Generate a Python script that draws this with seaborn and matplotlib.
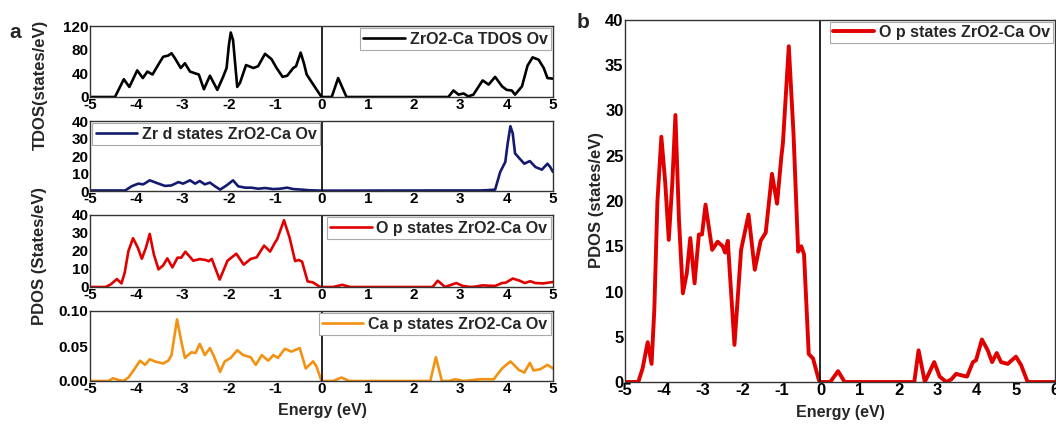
import matplotlib
matplotlib.use("Agg")
import matplotlib.pyplot as plt
import seaborn as sns
import pandas as pd

# ---------------- data ----------------
tdos_e = [-5, -4.46, -4.27, -4.15, -3.98, -3.86, -3.76, -3.65, -3.53, -3.42, -3.31, -3.24, -3.17,
          -3.04, -2.95, -2.84, -2.73, -2.65, -2.54, -2.41, -2.25, -2.12, -2.05, -2.0, -1.96, -1.91,
          -1.82, -1.76, -1.63, -1.47, -1.37, -1.22, -1.08, -0.97, -0.84, -0.74, -0.61, -0.55, -0.45,
          -0.38, -0.32, -0.22, 0, 0.22, 0.36, 0.54, 2.74, 2.85, 2.96, 3.07, 3.17, 3.28, 3.48, 3.61,
          3.75, 3.9, 4.0, 4.11, 4.18, 4.33, 4.45, 4.56, 4.69, 4.8, 4.88, 5.0]
tdos_v = [0, 0, 30, 17, 45, 32, 43, 38, 54, 68, 70, 74, 66,
          49, 57, 43, 40, 38, 13, 36, 12, 35, 49, 88, 109, 96,
          17, 24, 54, 49, 52, 73, 64, 49, 34, 36, 49, 52, 75,
          57, 38, 26, 0, 0, 32, 0, 0, 11, 4, 6, 1, 4, 28, 21,
          34, 18, 12, 11, 4, 18, 53, 67, 63, 49, 32, 31]

zrd_e = [-5, -4.24, -4.1, -3.96, -3.85, -3.71, -3.56, -3.38, -3.24, -3.09, -2.99, -2.84, -2.73,
         -2.63, -2.52, -2.41, -2.30, -2.19, -2.05, -1.91, -1.80, -1.65, -1.51, -1.37, -1.22, -1.04,
         -0.9, -0.74, -0.61, -0.43, -0.25, 0, 2.5, 3.43, 3.6, 3.75, 3.86, 3.97, 4.02, 4.08, 4.13,
         4.18, 4.28, 4.38, 4.5, 4.62, 4.76, 4.88, 4.94, 5.0]
zrd_v = [0.3, 0.3, 2.7, 4.2, 3.8, 6.1, 4.6, 2.9, 3.2, 5.1, 4.2, 6.1, 4.2,
         5.7, 3.8, 4.8, 2.7, 0.8, 3.2, 6.1, 2.7, 1.9, 1.9, 1.3, 1.7, 1.1,
         1.3, 1.9, 1.1, 0.8, 0.4, 0.2, 0.3, 0.3, 0.5, 0.8, 10.9, 16.6, 27, 37, 33,
         21.5, 18.5, 15.6, 17.1, 13.7, 12.2, 15.6, 13.7, 10.9]

op_e = [-5, -4.66, -4.55, -4.42, -4.32, -4.25, -4.17, -4.07, -3.97, -3.88, -3.79, -3.71, -3.62,
        -3.52, -3.42, -3.33, -3.22, -3.11, -3.03, -2.94, -2.77, -2.63, -2.50, -2.44, -2.37, -2.20,
        -2.03, -1.84, -1.68, -1.53, -1.40, -1.24, -1.11, -1.0, -0.96, -0.81, -0.69, -0.57, -0.49,
        -0.42, -0.30, -0.19, -0.04, 0, 0.25, 0.45, 0.62, 2.4, 2.51, 2.67, 2.91, 3.05, 3.22, 3.35,
        3.47, 3.64, 3.75, 3.9, 3.98, 4.13, 4.28, 4.39, 4.51, 4.62, 4.79, 5.0, 5.13, 5.3, 6.0]
op_v = [0, 0, 1.5, 4.4, 2.0, 8, 20, 27.1, 22, 15.7, 22, 29.5, 18,
        9.8, 12, 15.9, 10.9, 16.3, 16.3, 19.6, 14.6, 15.5, 15.0, 14.3, 15.6, 4.1,
        14.6, 18.5, 12.4, 15.6, 16.5, 23.0, 19.7, 24.9, 26.4, 37.1, 27.5, 14.4, 15.0,
        14.1, 3.1, 2.6, 0.2, 0, 0, 1.2, 0, 0, 3.5, 0, 2.2, 0.6, 0, 0.3,
        0.9, 0.7, 0.6, 2.2, 2.4, 4.7, 3.5, 2.2, 3.2, 2.2, 2.0, 2.8, 1.9, 0, 0]

cap_e = [-5, -4.6, -4.5, -4.39, -4.28, -4.17, -4.03, -3.92, -3.81, -3.71, -3.6, -3.42, -3.31,
         -3.24, -3.12, -3.02, -2.95, -2.81, -2.72, -2.63, -2.52, -2.41, -2.32, -2.19, -2.09, -1.96,
         -1.82, -1.69, -1.53, -1.42, -1.29, -1.15, -1.04, -0.94, -0.79, -0.65, -0.47, -0.34, -0.18,
         -0.11, 0, 0.25, 0.43, 0.6, 2.35, 2.47, 2.6, 2.75, 2.89, 3.07, 3.43, 3.72, 3.9, 4.08, 4.26,
         4.38, 4.5, 4.58, 4.73, 4.88, 5.0]
cap_v = [0, 0, 0.004, 0.0015, 0, 0.005, 0.018, 0.029, 0.023, 0.031, 0.028, 0.025, 0.029,
         0.037, 0.088, 0.054, 0.033, 0.041, 0.040, 0.053, 0.037, 0.047, 0.035, 0.013, 0.028, 0.033,
         0.044, 0.037, 0.034, 0.023, 0.037, 0.029, 0.037, 0.033, 0.046, 0.042, 0.047, 0.018, 0.028,
         0.021, 0, 0, 0.005, 0, 0, 0.034, 0, 0, 0.0025, 0, 0.0025, 0.0025, 0.018, 0.028, 0.016,
         0.012, 0.026, 0.015, 0.017, 0.023, 0.018]

labels = ["ZrO2-Ca TDOS Ov", "Zr d states ZrO2-Ca Ov", "O p states ZrO2-Ca Ov", "Ca p states ZrO2-Ca Ov"]
colors = ["#000000", "#141a6e", "#e00000", "#f39212"]
yticks_a = [[0, 40, 80, 120], [0, 10, 20, 30, 40], [0, 10, 20, 30, 40], [0.0, 0.05, 0.10]]
ylims_a = [(0, 120), (0, 40), (0, 40), (0, 0.10)]
xticks_a = [-5, -4, -3, -2, -1, 0, 1, 2, 3, 4, 5]
xticks_b = [-5, -4, -3, -2, -1, 0, 1, 2, 3, 4, 5, 6]
yticks_b = [0, 5, 10, 15, 20, 25, 30, 35, 40]

# ---------------- style ----------------
sns.set_theme(style="white")
plt.rcParams['font.family'] = ['Liberation Sans', 'DejaVu Sans']
plt.rcParams['font.weight'] = 'bold'
plt.rcParams['axes.labelweight'] = 'bold'

W, H = 1056, 425
fig = plt.figure(figsize=(W / 100, H / 100), dpi=100)


def px_axes(l, t, r, b):
    return fig.add_axes([l / W, 1 - b / H, (r - l) / W, (b - t) / H])


def style_axes(ax, fs):
    for s in ax.spines.values():
        s.set_color("#333333")
        s.set_linewidth(1.0)
    ax.tick_params(axis="both", length=0, pad=1, labelsize=fs, colors="black")
    for lab in ax.get_xticklabels() + ax.get_yticklabels():
        lab.set_fontweight("bold")


def style_legend(ax, loc, fs, bpad=0.15):
    leg = ax.legend(loc=loc, frameon=True, fancybox=False, framealpha=1,
                    edgecolor="#aaaaaa", handlelength=2.6, handletextpad=0.3,
                    borderpad=0.2, borderaxespad=bpad, prop={'weight': 'bold', 'size': fs})
    leg.get_frame().set_linewidth(0.8)
    return leg


# ---------------- panel a ----------------
tops = [26, 121, 215, 311]
bots = [97, 191, 287, 381]
series = [(tdos_e, tdos_v), (zrd_e, zrd_v), (op_e, op_v), (cap_e, cap_v)]
locs = ["upper right", "upper left", "upper right", "upper right"]
fmt = ["{:.0f}", "{:.0f}", "{:.0f}", "{:.2f}"]
for i in range(4):
    ax = px_axes(90, tops[i], 553, bots[i])
    e, v = series[i]
    df = pd.DataFrame({"E": e, "V": v})
    sns.lineplot(data=df, x="E", y="V", ax=ax, color=colors[i], lw=1.9, label=labels[i],
                 sort=False, estimator=None)
    ax.axvline(0, color="black", lw=1.2)
    ax.set_xlim(-5, 5)
    ax.set_ylim(*ylims_a[i])
    ax.set_xticks(xticks_a)
    ax.set_xticklabels([str(t) for t in xticks_a])
    ax.set_yticks(yticks_a[i])
    ax.set_yticklabels([fmt[i].format(t) for t in yticks_a[i]])
    ax.set_xlabel("")
    ax.set_ylabel("")
    style_axes(ax, 11)
    style_legend(ax, locs[i], 11.5)

fig.text(322 / W, 1 - 410 / H, "Energy (eV)", ha="center", va="center", fontsize=11.5, fontweight="bold")
fig.text(40 / W, 1 - 85 / H, "TDOS(states/eV)", ha="center", va="center", rotation=90,
         fontsize=12, fontweight="bold")
fig.text(40 / W, 1 - 256 / H, "PDOS (States/eV)", ha="center", va="center", rotation=90,
         fontsize=12, fontweight="bold")
fig.text(15 / W, 1 - 33 / H, "a", ha="center", va="center", fontsize=15, fontweight="bold")

# ---------------- panel b ----------------
axb = px_axes(625, 20, 1055, 382)
dfb = pd.DataFrame({"E": op_e, "V": op_v})
sns.lineplot(data=dfb, x="E", y="V", ax=axb, color=colors[2], lw=2.8, label=labels[2],
             sort=False, estimator=None)
axb.axvline(0, color="black", lw=1.2)
axb.set_xlim(-5, 6)
axb.set_ylim(0, 40)
axb.set_xticks(xticks_b)
axb.set_xticklabels([str(t) for t in xticks_b])
axb.set_yticks(yticks_b)
axb.set_yticklabels([str(t) for t in yticks_b])
axb.set_xlabel("")
axb.set_ylabel("")
style_axes(axb, 12)
style_legend(axb, "upper right", 11.5, bpad=0.1)

fig.text(840 / W, 1 - 412 / H, "Energy (eV)", ha="center", va="center", fontsize=11.5, fontweight="bold")
fig.text(597 / W, 1 - 200 / H, "PDOS (states/eV)", ha="center", va="center", rotation=90,
         fontsize=12, fontweight="bold")
fig.text(583 / W, 1 - 22 / H, "b", ha="center", va="center", fontsize=15, fontweight="bold")

fig.savefig("out.png", dpi=100)
